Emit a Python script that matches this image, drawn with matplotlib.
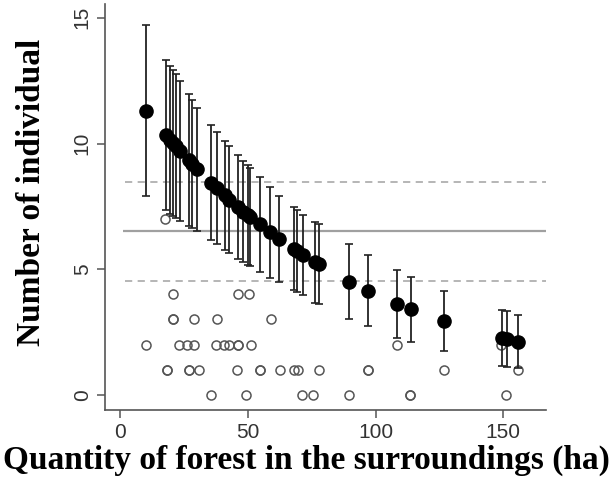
import matplotlib.pyplot as plt

# predicted number of individuals at each site (filled points) with CI half-widths
forest = [10.2, 17.9, 19.6, 20.6, 21.8, 23.5, 26.8, 28.1, 30.3, 35.6, 37.9, 40.9,
          42.7, 46.1, 48.3, 50.0, 50.9, 54.6, 58.6, 62.3, 67.9, 69.4, 71.8, 76.4,
          77.7, 89.7, 96.9, 108.6, 114.0, 127.0, 149.5, 151.4, 155.6]
predicted = [11.30, 10.34, 10.14, 10.03, 9.89, 9.70, 9.34, 9.20, 8.97, 8.44, 8.22, 7.94,
             7.77, 7.48, 7.29, 7.15, 7.07, 6.78, 6.47, 6.20, 5.82, 5.72, 5.56, 5.27,
             5.20, 4.50, 4.15, 3.60, 3.41, 2.93, 2.26, 2.22, 2.12]
ci = [3.4, 3.0, 2.95, 2.9, 2.86, 2.8, 2.63, 2.55, 2.45, 2.28, 2.23, 2.17,
      2.12, 2.06, 2.02, 2.0, 1.96, 1.9, 1.8, 1.72, 1.66, 1.62, 1.58, 1.62,
      1.6, 1.5, 1.42, 1.35, 1.3, 1.2, 1.1, 1.1, 1.05]

# observed counts (open circles)
obs_x = [17.6,
         20.6, 46.2, 50.5,
         20.6, 20.6, 29.0, 37.9, 59.0,
         10.2, 23.1, 26.2, 29.0, 37.6, 40.7, 42.7, 46.2, 46.2, 51.3, 108.6, 149.0,
         18.3, 18.3, 26.8, 26.8, 30.7, 45.9, 54.6, 54.6, 62.7, 67.9, 69.6, 77.7,
         96.9, 96.9, 127.0, 155.6,
         35.4, 49.2, 71.3, 75.7, 89.7, 113.6, 113.6, 151.2]
obs_y = [7,
         4, 4, 4,
         3, 3, 3, 3, 3,
         2, 2, 2, 2, 2, 2, 2, 2, 2, 2, 2, 2,
         1, 1, 1, 1, 1, 1, 1, 1, 1, 1, 1, 1,
         1, 1, 1, 1,
         0, 0, 0, 0, 0, 0, 0, 0]

mean_line = 6.53
band = [8.45, 4.54]

fig = plt.figure(figsize=(6.12, 4.78), dpi=100)
ax = fig.add_axes([0.1716, 0.1423, 0.7204, 0.8493])

ax.hlines(mean_line, 1, 167, color='#a0a0a0', lw=1.6, zorder=1)
for b in band:
    ax.hlines(b, 2, 167, color='#b0b0b0', lw=1.3, linestyles=(0, (4, 3)), zorder=1)

ax.plot(obs_x, obs_y, 'o', ms=6.5, mfc='none', mec='#555555', mew=1.1, zorder=2)

ax.errorbar(forest, predicted, yerr=ci, fmt='none', ecolor='#222222',
            elinewidth=1.3, capsize=3, capthick=1.2, zorder=3)
ax.plot(forest, predicted, 'o', ms=9.5, color='black', zorder=4)

ax.set_xlim(-5.9, 166.7)
ax.set_ylim(-0.6, 15.55)
ax.set_xticks([0, 50, 100, 150])
ax.set_yticks([0, 5, 10, 15])
for s in ['top', 'right']:
    ax.spines[s].set_visible(False)
for s in ['left', 'bottom']:
    ax.spines[s].set_color('#555555')
    ax.spines[s].set_linewidth(1.2)
ax.tick_params(length=6, width=1.1, color='#555555', labelcolor='#333333',
               labelsize=15)
for lab in ax.get_xticklabels() + ax.get_yticklabels():
    lab.set_family('Liberation Sans')
for lab in ax.get_yticklabels():
    lab.set_rotation(90)
    lab.set_va('center')

fig.text(0.5, 0.037, 'Quantity of forest in the surroundings (ha)',
         ha='center', va='center', family='Liberation Serif', weight='bold',
         fontsize=24)
fig.text(0.052, 0.598, 'Number of individual', rotation=90,
         ha='center', va='center', family='Liberation Serif', weight='bold',
         fontsize=24)

fig.savefig('out.png', dpi=100)
